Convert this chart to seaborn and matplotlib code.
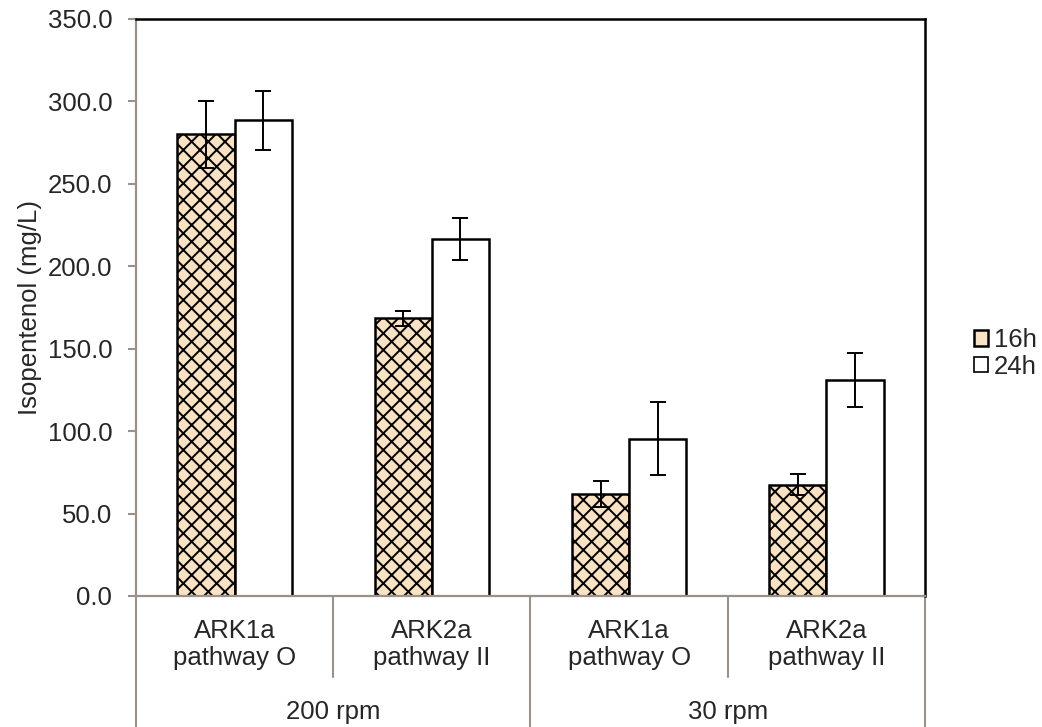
import pandas as pd
import matplotlib
matplotlib.use('Agg')
import matplotlib.pyplot as plt
import matplotlib.transforms as mtransforms
from matplotlib.patches import Patch
import seaborn as sns

# data
strains = ['ARK1a\npathway O', 'ARK2a\npathway II', 'ARK1a\npathway O', 'ARK2a\npathway II']
speeds = ['200 rpm', '30 rpm']
times = ['16h', '24h']
vals_16h = [280.0, 168.5, 62.0, 67.5]
vals_24h = [288.5, 216.5, 95.5, 131.0]
err_16h = [20.5, 4.5, 8.0, 6.5]
err_24h = [18.0, 12.5, 22.0, 16.5]

slots = [f'c{i}' for i in range(len(strains))]
df = pd.DataFrame({
    'slot': slots * 2,
    'time': ['16h'] * 4 + ['24h'] * 4,
    'value': vals_16h + vals_24h,
})

sns.set_style('white')
plt.rcParams['font.family'] = ['Liberation Sans', 'DejaVu Sans']
plt.rcParams['hatch.linewidth'] = 1.4

FS = 18.5

fig = plt.figure(figsize=(10.42, 7.27), dpi=100)
ax = fig.add_axes([0.1305, 0.1802, 0.8877 - 0.1305, 0.9739 - 0.1802])

fill_16 = '#F9E2C2'
sns.barplot(data=df, x='slot', y='value', hue='time', order=slots, hue_order=times,
            palette={'16h': fill_16, '24h': 'white'}, width=0.58, errorbar=None,
            edgecolor='black', linewidth=1.8, legend=False, ax=ax, saturation=1)

# hatch the 16h bars and add error bars
n = len(slots)
for i, p in enumerate(ax.patches[:2 * n]):
    if i < n:
        p.set_hatch('xx')
    cx = p.get_x() + p.get_width() / 2
    h = p.get_height()
    e = err_16h[i] if i < n else err_24h[i - n]
    ax.errorbar(cx, h, yerr=e, color='black', capsize=5.5, elinewidth=1.4,
                capthick=1.4, zorder=5)

ax.set_ylim(0, 350)
ax.set_xlim(-0.5, n - 0.5)
ax.set_yticks(range(0, 351, 50))
ax.set_yticklabels([f'{v:.1f}' for v in range(0, 351, 50)], fontsize=FS)
ax.set_ylabel('Isopentenol (mg/L)', fontsize=FS, labelpad=4)
ax.set_xlabel('')
ax.set_xticks([])
ax.tick_params(axis='y', left=True, length=6, color='#9a918a', width=1.5, pad=11)

for s in ['left', 'bottom']:
    ax.spines[s].set_color('#9a918a')
    ax.spines[s].set_linewidth(1.6)
for s in ['top', 'right']:
    ax.spines[s].set_color('black')
    ax.spines[s].set_linewidth(1.8)

# two-level category axis below the plot
trans = mtransforms.blended_transform_factory(ax.transData, ax.transAxes)
line_kw = dict(color='#9a918a', lw=1.5, transform=trans, clip_on=False)
for x in [-0.5, 1.5, 3.5]:
    ax.plot([x, x], [0, -0.227], **line_kw)
for x in [0.5, 2.5]:
    ax.plot([x, x], [0, -0.14], **line_kw)
for i, lab in enumerate(strains):
    ax.text(i, -0.084, lab, transform=trans, ha='center', va='center',
            fontsize=FS, linespacing=1.12)
for j, sp in enumerate(speeds):
    ax.text(2 * j + 0.5, -0.201, sp, transform=trans, ha='center', va='center', fontsize=FS)

handles = [Patch(facecolor=fill_16, edgecolor='black', linewidth=1.8),
           Patch(facecolor='white', edgecolor='black', linewidth=1.2)]
fig.legend(handles, times, loc='center left', bbox_to_anchor=(0.935, 0.514),
           frameon=False, fontsize=FS, handlelength=0.55, handleheight=0.55,
           handletextpad=0.2, labelspacing=0.1, borderaxespad=0, borderpad=0)

fig.savefig('out.png', dpi=100)
